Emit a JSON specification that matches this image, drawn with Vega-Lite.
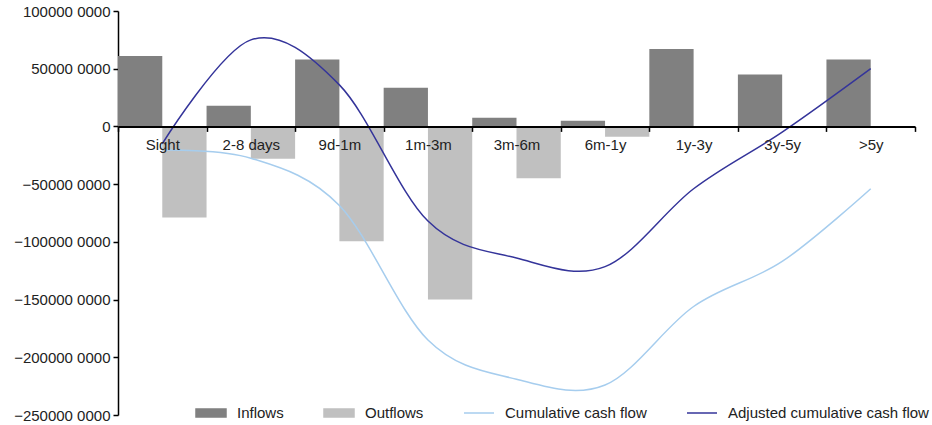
{
  "$schema": "https://vega.github.io/schema/vega-lite/v6.json",
  "width": 797,
  "height": 404,
  "autosize": {"type": "none"},
  "padding": {"left": 118, "top": 11, "right": 17, "bottom": 10},
  "background": "white",
  "config": {
    "view": {"stroke": null},
    "font": "Liberation Sans",
    "axis": {"grid": false, "title": null, "labelFont": "Liberation Sans", "labelFontSize": 15, "labelColor": "#222222", "domainColor": "#000000", "tickColor": "#000000"}
  },
  "data": {
    "values": [
      {"cat": "Sight", "series": "Inflows", "value": 61000},
      {"cat": "2-8 days", "series": "Inflows", "value": 18000},
      {"cat": "9d-1m", "series": "Inflows", "value": 58000},
      {"cat": "1m-3m", "series": "Inflows", "value": 33500},
      {"cat": "3m-6m", "series": "Inflows", "value": 7500},
      {"cat": "6m-1y", "series": "Inflows", "value": 5000},
      {"cat": "1y-3y", "series": "Inflows", "value": 67000},
      {"cat": "3y-5y", "series": "Inflows", "value": 45000},
      {"cat": ">5y", "series": "Inflows", "value": 58000},
      {"cat": "Sight", "series": "Outflows", "value": -79000},
      {"cat": "2-8 days", "series": "Outflows", "value": -28000},
      {"cat": "9d-1m", "series": "Outflows", "value": -99500},
      {"cat": "1m-3m", "series": "Outflows", "value": -150000},
      {"cat": "3m-6m", "series": "Outflows", "value": -45000},
      {"cat": "6m-1y", "series": "Outflows", "value": -9000},
      {"cat": "Sight", "series": "Cumulative cash flow", "value": -20500},
      {"cat": "2-8 days", "series": "Cumulative cash flow", "value": -27500},
      {"cat": "9d-1m", "series": "Cumulative cash flow", "value": -68500},
      {"cat": "1m-3m", "series": "Cumulative cash flow", "value": -185000},
      {"cat": "3m-6m", "series": "Cumulative cash flow", "value": -219000},
      {"cat": "6m-1y", "series": "Cumulative cash flow", "value": -224000},
      {"cat": "1y-3y", "series": "Cumulative cash flow", "value": -156000},
      {"cat": "3y-5y", "series": "Cumulative cash flow", "value": -117000},
      {"cat": ">5y", "series": "Cumulative cash flow", "value": -54000},
      {"cat": "Sight", "series": "Adjusted cumulative cash flow", "value": -15000},
      {"cat": "2-8 days", "series": "Adjusted cumulative cash flow", "value": 75000},
      {"cat": "9d-1m", "series": "Adjusted cumulative cash flow", "value": 36000},
      {"cat": "1m-3m", "series": "Adjusted cumulative cash flow", "value": -82000},
      {"cat": "3m-6m", "series": "Adjusted cumulative cash flow", "value": -114000},
      {"cat": "6m-1y", "series": "Adjusted cumulative cash flow", "value": -121500},
      {"cat": "1y-3y", "series": "Adjusted cumulative cash flow", "value": -54000},
      {"cat": "3y-5y", "series": "Adjusted cumulative cash flow", "value": -5000},
      {"cat": ">5y", "series": "Adjusted cumulative cash flow", "value": 50000}
    ]
  },
  "encoding": {
    "x": {
      "field": "cat",
      "type": "nominal",
      "sort": ["Sight", "2-8 days", "9d-1m", "1m-3m", "3m-6m", "6m-1y", "1y-3y", "3y-5y", ">5y"],
      "scale": {"paddingInner": 0, "paddingOuter": 0},
      "axis": {"orient": "bottom", "offset": -288.6, "labelAngle": 0, "tickBand": "extent", "tickSize": 5, "domainWidth": 2, "tickWidth": 1.5, "labelPadding": 6, "zindex": 1}
    },
    "y": {
      "field": "value",
      "type": "quantitative",
      "scale": {"domain": [-250000, 100000], "nice": false, "zero": false},
      "axis": {"values": [-250000, -200000, -150000, -100000, -50000, 0, 50000, 100000], "tickSize": 5, "domainWidth": 1.5, "tickWidth": 1.5, "labelPadding": 3, "labelExpr": "datum.value == 0 ? '0' : format(datum.value, 'd') + ' 0000'"}
    },
    "color": {
      "field": "series",
      "type": "nominal",
      "scale": {
        "domain": ["Inflows", "Outflows", "Cumulative cash flow", "Adjusted cumulative cash flow"],
        "range": ["#808080", "#c0c0c0", "#a6cdee", "#34349a"]
      },
      "legend": {
        "orient": "none",
        "legendX": 77,
        "legendY": 386,
        "direction": "horizontal",
        "title": null,
        "labelFont": "Liberation Sans",
        "labelFontSize": 15,
        "labelColor": "#222222",
        "labelLimit": 0,
        "symbolSize": 900,
        "labelOffset": 10,
        "columnPadding": 37,
        "encode": {
          "symbols": {
            "update": {
              "shape": {"signal": "datum.value == 'Inflows' || datum.value == 'Outflows' ? 'M-1,-0.27H1V0.27H-1Z' : 'M-1,0H1'"},
              "fill": {"signal": "datum.value == 'Inflows' ? '#808080' : datum.value == 'Outflows' ? '#c0c0c0' : 'transparent'"},
              "stroke": {"signal": "datum.value == 'Cumulative cash flow' ? '#a6cdee' : datum.value == 'Adjusted cumulative cash flow' ? '#34349a' : 'transparent'"},
              "strokeWidth": {"value": 1.5},
              "opacity": {"value": 1}
            }
          }
        }
      }
    }
  },
  "layer": [
    {
      "transform": [{"filter": "datum.series == 'Inflows' || datum.series == 'Outflows'"}],
      "mark": {"type": "bar"},
      "encoding": {
        "xOffset": {"field": "series", "type": "nominal", "scale": {"domain": ["Inflows", "Outflows"], "paddingInner": 0, "paddingOuter": 0}}
      }
    },
    {
      "transform": [{"filter": "datum.series != 'Inflows' && datum.series != 'Outflows'"}],
      "mark": {"type": "line", "interpolate": "cardinal", "strokeWidth": 1.5},
      "encoding": {
        "x": {"field": "cat", "type": "nominal", "bandPosition": 0.5, "sort": ["Sight", "2-8 days", "9d-1m", "1m-3m", "3m-6m", "6m-1y", "1y-3y", "3y-5y", ">5y"]}
      }
    }
  ]
}
